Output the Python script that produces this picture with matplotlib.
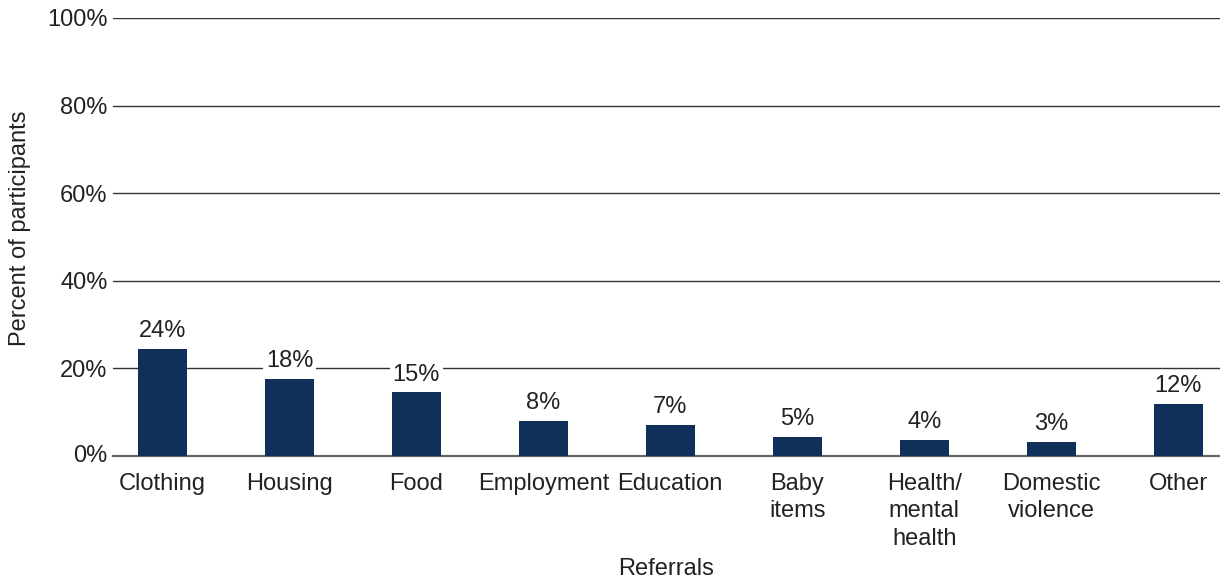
import matplotlib.pyplot as plt

categories = ['Clothing', 'Housing', 'Food', 'Employment', 'Education',
              'Baby\nitems', 'Health/\nmental\nhealth', 'Domestic\nviolence', 'Other']
values = [24.4, 17.5, 14.5, 8.1, 7.1, 4.4, 3.6, 3.1, 11.8]
labels = ['24%', '18%', '15%', '8%', '7%', '5%', '4%', '3%', '12%']
yticks = [0, 20, 40, 60, 80, 100]

plt.rcParams['font.family'] = ['Liberation Sans', 'DejaVu Sans']
FS = 17

fig = plt.figure(figsize=(12.2, 5.8), dpi=100)
ax = fig.add_axes([113 / 1220, 1 - 456 / 580, 1 - 113 / 1220, 438 / 580])

x = list(range(len(categories)))
ax.bar(x, values, width=0.385, color='#0f3159', zorder=3)

for xi, v, lab in zip(x, values, labels):
    ax.annotate(lab, (xi, v), xytext=(0, 5), textcoords='offset points',
                ha='center', va='bottom', fontsize=FS, color='#222222', zorder=4,
                bbox=dict(boxstyle='square,pad=0.12', fc='white', ec='none'))

ax.set_ylim(0, 100)
ax.set_xlim(-0.39, 8.33)
ax.set_yticks(yticks[1:])
ax.set_yticklabels([f'{t}%' for t in yticks[1:]], fontsize=FS, color='#222222')
ax.set_xticks(x)
ax.set_xticklabels(categories, fontsize=FS, color='#222222', va='top', linespacing=1.33)
ax.tick_params(length=0, pad=4)
ax.tick_params(axis='x', pad=12)
ax.yaxis.grid(True, color='#333333', linewidth=1.0, zorder=0)
ax.axhline(0, color='#666666', linewidth=1.6, zorder=2, clip_on=False)
ax.text(-0.005, 0, '0%', transform=ax.get_yaxis_transform(), ha='right', va='center',
        fontsize=FS, color='#222222')
for s in ax.spines.values():
    s.set_visible(False)

ax.set_ylabel('Percent of participants', fontsize=FS, color='#222222')
ax.set_xlabel('Referrals', fontsize=FS, color='#222222', labelpad=6)
ax.yaxis.set_label_coords(-(113 - 31) / 1107, 0.52)

fig.savefig('out.png', dpi=100)
